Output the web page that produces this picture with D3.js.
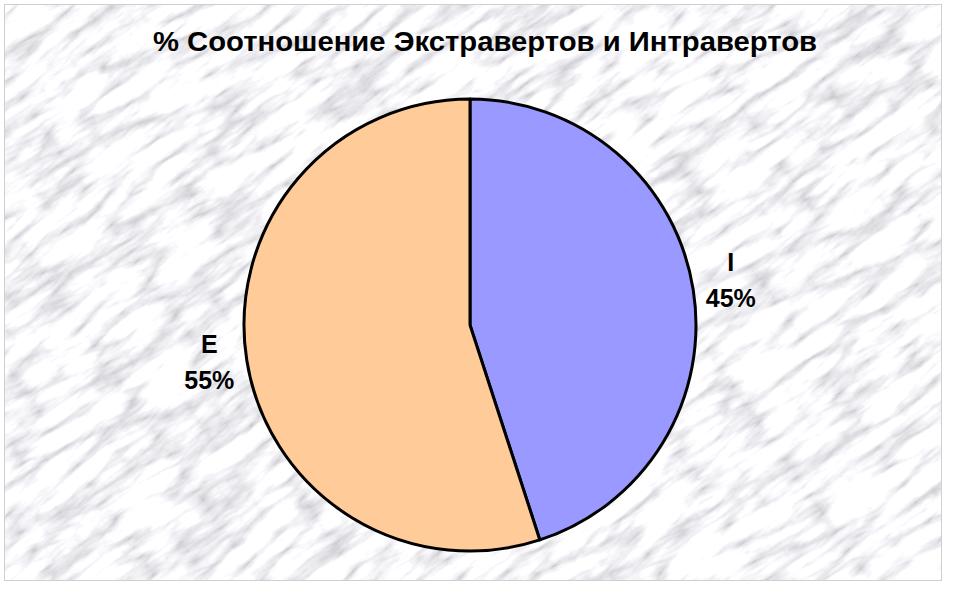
<!DOCTYPE html>
<html><head><meta charset="utf-8">
<script src="https://cdn.jsdelivr.net/npm/d3@7"></script>
<style>html,body{margin:0;padding:0;background:#fff;}svg{display:block;}</style>
</head><body>
<svg id="chart" width="968" height="600"></svg>
<script>
const categories = ["I", "E"];
const values = [45, 55];
const percentLabels = ["45%", "55%"];
const colors = ["#9999FF", "#FFCC99"];
const title = "% Соотношение Экстравертов и Интравертов";

const svg = d3.select("#chart");
const defs = svg.append("defs");

// marble-like texture
const f = defs.append("filter").attr("id", "marble")
  .attr("filterUnits", "userSpaceOnUse")
  .attr("x", -700).attr("y", -700).attr("width", 1400).attr("height", 1400);
f.append("feTurbulence").attr("type", "turbulence")
  .attr("baseFrequency", "0.012 0.045").attr("numOctaves", 5).attr("seed", 11).attr("result", "t");
f.append("feColorMatrix").attr("in", "t").attr("type", "matrix")
  .attr("values", "0.65 0.65 0 0 0.53  0.65 0.65 0 0 0.53  0.65 0.65 0 0 0.56  0 0 0 0 1");

defs.append("clipPath").attr("id", "areaClip")
  .append("rect").attr("x", 4).attr("y", 4).attr("width", 938).attr("height", 577);

const bg = svg.append("g").attr("clip-path", "url(#areaClip)");
bg.append("rect").attr("x", 4).attr("y", 4).attr("width", 938).attr("height", 577).attr("fill", "#d8d8da");
bg.append("g").attr("transform", "translate(470,300) rotate(-35)")
  .append("rect").attr("x", -700).attr("y", -700).attr("width", 1400).attr("height", 1400)
  .attr("filter", "url(#marble)");

svg.append("rect").attr("x", 4.5).attr("y", 4.5).attr("width", 937).attr("height", 576)
  .attr("fill", "none").attr("stroke", "#cfcfcf").attr("stroke-width", 1);

// title
svg.append("text").attr("x", 485).attr("y", 51).attr("text-anchor", "middle")
  .attr("font-family", "Liberation Sans, Arial, sans-serif").attr("font-weight", "bold")
  .attr("font-size", 27).attr("textLength", 664).attr("lengthAdjust", "spacingAndGlyphs")
  .attr("fill", "#000").text(title);

// pie
const cx = 470, cy = 325, r = 226;
const pie = d3.pie().sort(null).value(d => d)(values);
const arc = d3.arc().innerRadius(0).outerRadius(r);
const labelArc = d3.arc().innerRadius(264).outerRadius(264);
const g = svg.append("g").attr("transform", `translate(${cx},${cy})`);
g.selectAll("path").data(pie).join("path")
  .attr("d", arc).attr("fill", (d, i) => colors[i])
  .attr("stroke", "#000").attr("stroke-width", 3).attr("stroke-linejoin", "round");

const lab = g.selectAll("g.lab").data(pie).join("g").attr("class", "lab")
  .attr("transform", d => { const c = labelArc.centroid(d); return `translate(${c[0]},${c[1]})`; });
lab.append("text").attr("text-anchor", "middle").attr("y", -13)
  .attr("font-family", "Liberation Sans, Arial, sans-serif").attr("font-weight", "bold").attr("font-size", 25)
  .text((d, i) => categories[i]);
lab.append("text").attr("text-anchor", "middle").attr("y", 23)
  .attr("font-family", "Liberation Sans, Arial, sans-serif").attr("font-weight", "bold").attr("font-size", 25)
  .text((d, i) => percentLabels[i]);
</script>
</body></html>
